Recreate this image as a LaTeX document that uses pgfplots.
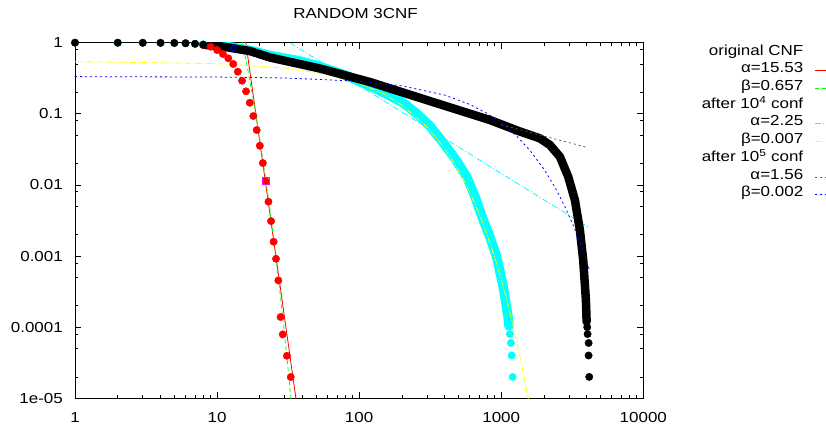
\documentclass[border=0pt]{standalone}
\usepackage{fontspec}
\setmainfont{Liberation Sans}[FakeStretch=1.17]
\usepackage{pgfplots}
\pgfplotsset{compat=1.18}
\definecolor{gred}{RGB}{255,0,0}
\definecolor{ggreen}{RGB}{0,255,0}
\definecolor{gcyan}{RGB}{0,255,255}
\definecolor{gyellow}{RGB}{255,255,0}
\definecolor{gblue}{RGB}{0,0,255}
\definecolor{gmagenta}{RGB}{255,0,255}
\definecolor{ggray}{RGB}{90,90,90}
\begin{document}
\fontsize{14.5pt}{17pt}\selectfont
\begin{tikzpicture}
\path[use as bounding box] (-75pt,-27.7pt) rectangle (751pt,398.3pt);
\begin{axis}[
  at={(0pt,0pt)}, anchor=south west,
  scale only axis, width=568.3pt, height=355.6pt,
  xmode=log, ymode=log,
  xmin=1, xmax=10000, ymin=1e-5, ymax=1,
  xtick={1,10,100,1000,10000},
  xticklabels={1,10,100,1000,10000},
  ytick={1e-5,1e-4,1e-3,1e-2,1e-1,1},
  yticklabels={1e-05,0.0001,0.001,0.01,0.1,1},
  minor xtick={2,3,4,5,6,7,8,9,20,30,40,50,60,70,80,90,200,300,400,500,600,700,800,900,2000,3000,4000,5000,6000,7000,8000,9000},
  minor ytick={2e-5,5e-5,8e-5,2e-4,5e-4,8e-4,2e-3,5e-3,8e-3,2e-2,5e-2,8e-2,0.2,0.5,0.8},
  tick align=inside,
  major tick length=6pt, minor tick length=3.5pt,
  every tick/.style={black, line width=0.8pt},
  axis line style={line width=0.9pt},
  xticklabel style={inner sep=0pt, anchor=north, yshift=-14pt},
  yticklabel style={inner sep=0pt, anchor=east, xshift=-12pt},
  title={RANDOM 3CNF},
  every axis title/.style={at={(0.4936,1)}, anchor=center, yshift=28.7pt, inner sep=0pt},
  legend style={at={(1.3549,0.9958)}, anchor=north east, draw=none, fill=none,
    inner sep=0pt, outer sep=0pt, row sep=0pt, column sep=11pt,
    nodes={inner sep=0pt, text height=11pt, text depth=6.7pt}},
  legend cell align=right,
  legend plot pos=right,
  legend image code/.code={\draw[#1] (0pt,0pt) -- (30pt,0pt);},
]
% ---------- original CNF ----------
\addlegendimage{empty legend}\addlegendentry{original CNF}
\addplot[only marks, mark=*, mark size=3.7pt, gred, mark options={fill=gred, draw=gred}, forget plot] coordinates {
(1,1)(2,1)(3,0.999)(4,0.998)(5,0.995)(6,0.985)(7,0.965)(8,0.93)
(9,0.878)(10,0.789)(11,0.694)(12,0.603)(13,0.502)(14,0.391)(15,0.292)(16,0.2072)
(17,0.1432)(18,0.0931)(19,0.0592)(20,0.0356)(21,0.0203)(22,0.01124)(23,0.00581)
(24,0.0031)(25,0.00159)(26,9.16e-4)(27,4.55e-4)(28,1.39e-4)(29,7.92e-5)(31,3.96e-5)(33,1.99e-5)};
\addplot[gred, line width=0.8pt] coordinates {(15,2.36)(37,6.5e-6)};
\addlegendentry{α=15.53}
\addplot[ggreen, line width=0.8pt, dash pattern=on 4pt off 3pt] coordinates {
(14,2.02)(15.1,1)(16,0.562)(18,0.1563)(20,0.04346)(22,0.01208)(24,0.003358)
(26,9.34e-4)(28,2.597e-4)(30,7.22e-5)(32,2.007e-5)(34,5.58e-6)};
\addlegendentry{β=0.657}
% ---------- after 10^4 conf ----------
\addlegendimage{empty legend}\addlegendentry{after 10\textsuperscript{4} conf}
\addplot[only marks, mark=*, mark size=3.7pt, gcyan, mark options={fill=gcyan, draw=gcyan}, forget plot] coordinates {
(1,1)(2,0.999)(3,0.997)(4,0.994)(5,0.99)(6,0.98)(7,0.965)(8,0.95)
(1150,8e-5)(1170,6e-5)(1184,4e-5)(1203,2e-5)};
\addplot[gcyan, line width=9.5pt, line cap=round, line join=round, forget plot] coordinates {
(8,0.95)(10,0.92)(12.94,0.862)(17,0.78)(23.6,0.661)(38.3,0.553)(53.0,0.4626)(79.5,0.3513)
(119.1,0.246)(160,0.185)(204.3,0.1432)(255,0.1)(314.9,0.0674)(390.7,0.0392)(470,0.024)
(571,0.01304)(653,0.0069)(747,0.00321)(832,0.00186)
(928,9.77e-4)(1033,3.70e-4)(1117,1.4e-4)(1133,1.04e-4)};
\addplot[gcyan, line width=0.8pt, dash pattern=on 6pt off 2pt on 1pt off 2pt] coordinates {(28,1.2)(4162,0.0025)};
\addlegendentry{α=2.25}
\addplot[gyellow, line width=0.8pt, dash pattern=on 6pt off 2pt on 1pt off 2pt] coordinates {
(1,0.5412)(10,0.5079)(30,0.4411)(60,0.3570)(100,0.2693)(150,0.1893)(200,0.1330)
(300,0.06573)(400,0.03249)(500,0.01605)(600,0.00793)(700,0.003919)(800,0.001936)
(900,9.57e-4)(1000,4.73e-4)(1100,2.335e-4)(1200,1.154e-4)(1300,5.70e-5)(1400,2.82e-5)
(1500,1.392e-5)(1600,6.88e-6)};
\addlegendentry{β=0.007}
% ---------- after 10^5 conf ----------
\addlegendimage{empty legend}\addlegendentry{after 10\textsuperscript{5} conf}
\addplot[black, line width=8.5pt, line cap=round, line join=round, forget plot] coordinates {
(8,0.94)(9,0.92)(10,0.90)(11,0.88)(12,0.857)(13.0,0.834)(17.0,0.764)(23.6,0.619)
(53.0,0.4337)(119.1,0.280)(315,0.151)(833,0.0818)(1354,0.0564)(1873,0.0452)(2202,0.0364)
(2589,0.0249)(2961,0.01304)(3301,0.00613)(3579,0.00232)(3776,8.78e-4)(3946,2.40e-4)(3991,1.19e-4)};
\addplot[only marks, mark=*, mark size=3.7pt, black, forget plot] coordinates {
(1,1)(2,0.999)(3,0.997)(4,0.994)(5,0.99)(6,0.98)(7,0.965)(8,0.94)
(4030,1e-4)(4055,8e-5)(4121,6e-5)(4121,4e-5)(4162,2e-5)};
\addplot[ggray, line width=0.8pt, dash pattern=on 2pt off 3pt] coordinates {(1000,0.0703)(4094,0.0334)};
\addlegendentry{α=1.56}
\addplot[gblue, line width=0.8pt, dash pattern=on 2pt off 3pt] coordinates {
(1,0.3335)(10,0.3290)(30,0.3193)(100,0.2875)(200,0.2474)(400,0.1833)(600,0.1358)
(800,0.1006)(1000,0.0745)(1300,0.0475)(1600,0.0303)(2000,0.01663)(2400,0.00913)
(2800,0.00501)(3200,0.00275)(3600,0.001509)(4000,8.28e-4)(4162,6.49e-4)};
\addlegendentry{β=0.002}
% ---------- highlighted points ----------
\addplot[only marks, mark=square, mark size=3.5pt, gmagenta, line width=0.8pt, forget plot] coordinates {(22,0.01124)};
\addplot[only marks, mark=diamond, mark size=3.5pt, gblue, line width=0.8pt, forget plot] coordinates {(13,0.834)};
\end{axis}
\end{tikzpicture}
\end{document}
